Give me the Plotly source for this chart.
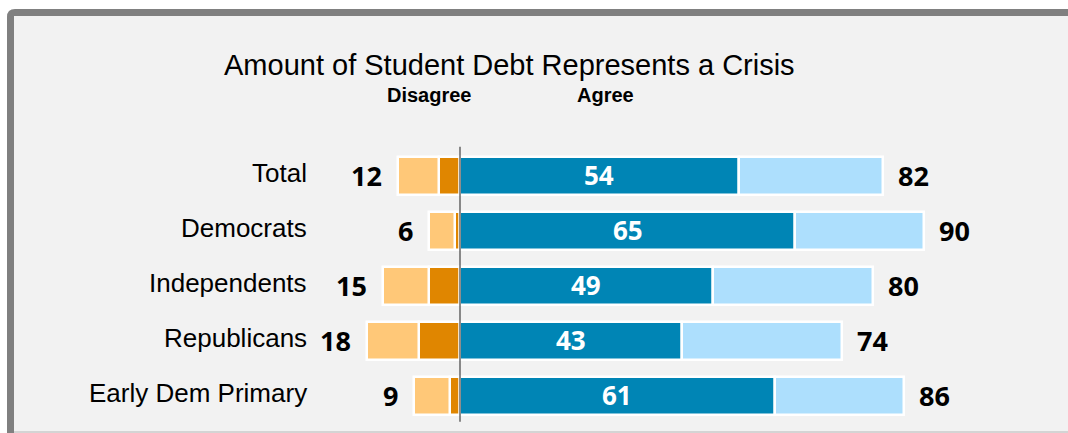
import plotly.graph_objects as go

# Survey groups (top to bottom)
categories = ["Total", "Democrats", "Independents", "Republicans", "Early Dem Primary"]

# Agree side: strongly agree and total agree (%)
strongly_agree = [54, 65, 49, 43, 61]
total_agree = [82, 90, 80, 74, 86]

# Disagree side: strongly disagree and total disagree (%)
strongly_disagree = [4, 1, 6, 8, 2]
total_disagree = [12, 6, 15, 18, 9]

somewhat_agree = [t - s for t, s in zip(total_agree, strongly_agree)]
somewhat_disagree = [t - s for t, s in zip(total_disagree, strongly_disagree)]

W, H = 1068, 433
BG = "#f2f2f2"
DARK_BLUE = "#0085b5"
LIGHT_BLUE = "#addffd"
DARK_ORANGE = "#e08600"
LIGHT_ORANGE = "#ffc878"

rows = list(range(len(categories)))


def px_x(p):
    return p / W


def px_y(p):
    return 1 - p / H


fig = go.Figure()

bar_line = dict(color="white", width=2.5)
bw = 0.7

fig.add_trace(go.Bar(y=rows, x=[-v for v in strongly_disagree], orientation="h",
                     marker=dict(color=DARK_ORANGE, line=bar_line), width=bw,
                     hoverinfo="skip"))
fig.add_trace(go.Bar(y=rows, x=[-v for v in somewhat_disagree], orientation="h",
                     marker=dict(color=LIGHT_ORANGE, line=bar_line), width=bw,
                     hoverinfo="skip"))
fig.add_trace(go.Bar(y=rows, x=strongly_agree, orientation="h",
                     marker=dict(color=DARK_BLUE, line=bar_line), width=bw,
                     hoverinfo="skip"))
fig.add_trace(go.Bar(y=rows, x=somewhat_agree, orientation="h",
                     marker=dict(color=LIGHT_BLUE, line=bar_line), width=bw,
                     hoverinfo="skip"))

annotations = []
label_font = dict(family="Liberation Sans", size=26, color="black")
value_font = dict(family="Open Sans", size=27, color="black", weight="bold")
inside_font = dict(family="Open Sans", size=26, color="white", weight="bold")
for i, cat in enumerate(categories):
    annotations.append(dict(x=px_x(309), xref="paper", y=i, yref="y", text=cat,
                            showarrow=False, xanchor="right", yanchor="middle",
                            font=label_font, yshift=3))
    annotations.append(dict(x=-total_disagree[i], xref="x", y=i, yref="y",
                            text=str(total_disagree[i]), showarrow=False,
                            xanchor="right", yanchor="middle", xshift=-14,
                            font=value_font, yshift=1))
    annotations.append(dict(x=total_agree[i], xref="x", y=i, yref="y",
                            text=str(total_agree[i]), showarrow=False,
                            xanchor="left", yanchor="middle", xshift=13,
                            font=value_font, yshift=1))
    # strongly-agree value centred in its segment
    annotations.append(dict(x=strongly_agree[i] / 2, xref="x", y=i, yref="y",
                            text=str(strongly_agree[i]), showarrow=False,
                            xanchor="center", yanchor="middle",
                            font=inside_font, yshift=1))

annotations.append(dict(x=px_x(509), y=px_y(65), xref="paper", yref="paper",
                        text="Amount of Student Debt Represents a Crisis",
                        showarrow=False, xanchor="center", yanchor="middle",
                        font=dict(family="Liberation Sans", size=29, color="black")))
annotations.append(dict(x=px_x(429), y=px_y(95), xref="paper", yref="paper",
                        text="<b>Disagree</b>", showarrow=False, xanchor="center",
                        yanchor="middle",
                        font=dict(family="Liberation Sans", size=20, color="black")))
annotations.append(dict(x=px_x(605), y=px_y(95), xref="paper", yref="paper",
                        text="<b>Agree</b>", showarrow=False, xanchor="center",
                        yanchor="middle",
                        font=dict(family="Liberation Sans", size=20, color="black")))

# Frame: grey band with a rounded top-left corner, light panel inside
frame_path = (f"M {px_x(7)},{px_y(433)} L {px_x(7)},{px_y(17)} "
              f"Q {px_x(7)},{px_y(9)} {px_x(15)},{px_y(9)} "
              f"L {px_x(1070)},{px_y(9)} L {px_x(1070)},{px_y(433)} Z")
shapes = [
    dict(type="path", path=frame_path, xref="paper", yref="paper",
         fillcolor="#808080", line=dict(width=0), layer="below"),
    dict(type="rect", xref="paper", yref="paper", x0=px_x(14), x1=px_x(1070),
         y0=px_y(431), y1=px_y(16), fillcolor=BG, line=dict(width=0), layer="below"),
    dict(type="rect", xref="paper", yref="paper", x0=px_x(14), x1=px_x(1070),
         y0=px_y(433), y1=px_y(431), fillcolor="#d4d4d4", line=dict(width=0),
         layer="below"),
    # zero line separating disagree and agree
    dict(type="line", xref="x", yref="y", x0=0, x1=0, y0=-0.53, y1=4.47,
         line=dict(color="#404040", width=1.2), layer="above"),
]

scale = 5.16  # pixels per percentage point
fig.update_layout(
    width=W, height=H,
    margin=dict(l=0, r=0, t=0, b=0),
    paper_bgcolor="white",
    plot_bgcolor="rgba(0,0,0,0)",
    barmode="relative",
    bargap=0,
    showlegend=False,
    xaxis=dict(range=[-460 / scale, (W - 460) / scale], visible=False, fixedrange=True),
    yaxis=dict(range=[(H - 176) / 55, -176 / 55], visible=False, fixedrange=True),
    annotations=annotations,
    shapes=shapes,
)

fig.write_html("out.html")
